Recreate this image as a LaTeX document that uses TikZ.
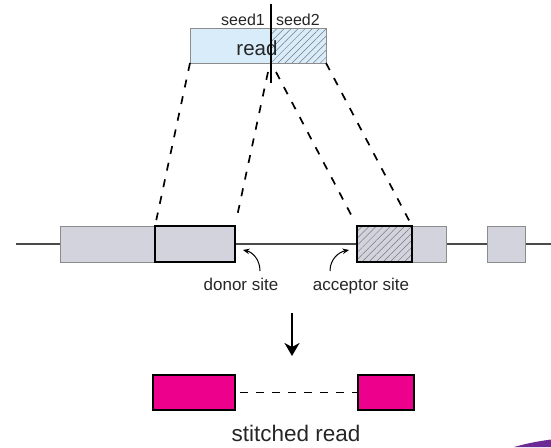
\documentclass[tikz,border=0pt]{standalone}
\usepackage{fontspec}
\setmainfont{Liberation Sans}
\usetikzlibrary{patterns.meta,arrows.meta}
\definecolor{readblue}{HTML}{D8ECF9}
\definecolor{exongray}{HTML}{D3D3DD}
\definecolor{edgegray}{HTML}{8C8C8C}
\definecolor{hatchgray}{HTML}{7A7A80}
\definecolor{linegray}{HTML}{4A4A4A}
\definecolor{stitchpink}{HTML}{EC008C}
\definecolor{swooshpurple}{HTML}{6B2A94}

\begin{document}
\begin{tikzpicture}[x=1pt,y=-1pt,
  blk/.style={rectangle, inner sep=0pt, outer sep=0pt},
  exon/.style={blk, fill=exongray, draw=edgegray, line width=0.8pt},
  mapped/.style={blk, draw=black, line width=1.8pt},
  hatch/.style={pattern={Lines[angle=45,distance=5pt,line width=0.5pt]}, pattern color=hatchgray},
  stitched/.style={blk, fill=stitchpink, draw=black, line width=1.5pt},
  seedlink/.style={black, line width=1.7pt, dash pattern=on 8pt off 9pt},
  sitearrow/.style={black, line width=1pt, -{Stealth[length=6.5pt,width=5.5pt]}},
  lbl/.style={inner sep=0pt, text=black!85, anchor=base}
]
\useasboundingbox (0,0) rectangle (551,447);

% ---- the read and its two seeds ----
\node[blk, fill=readblue, minimum width=136pt, minimum height=35pt] (read) at (258,45.5) {};
\node[blk, hatch, minimum width=55pt, minimum height=35pt] (seed2box) at (298.5,45.5) {};
\draw[edgegray, line width=0.8pt] (read.south west) rectangle (read.north east);
\node[lbl, font=\fontsize{20.5}{20.5}\selectfont] (readtxt) at (257,55) {read};
\coordinate (divtop) at (271,4);
\coordinate (divbot) at (271,83);
\draw[black, line width=1.4pt] (divtop) -- (divbot);
\node[lbl, font=\fontsize{16}{16}\selectfont, anchor=base east] (seed1) at (265,25.5) {seed1};
\node[lbl, font=\fontsize{16}{16}\selectfont, anchor=base west] (seed2) at (276,25.5) {seed2};

% ---- gene model ----
\coordinate (geneL) at (16,244);
\coordinate (geneR) at (551,244);
\draw[linegray, line width=1.3pt] (geneL) -- (geneR);
\node[exon, minimum width=175pt, minimum height=36pt] (exon1) at (147.5,244) {};
\node[exon, minimum width=89pt, minimum height=36pt] (exon2) at (401.5,244) {};
\node[exon, minimum width=38pt, minimum height=36pt] (exon3) at (506,244) {};
\node[mapped, minimum width=80pt, minimum height=36pt] (donor) at (195,244) {};
\node[blk, hatch, minimum width=55pt, minimum height=36pt] (acchatch) at (384.5,244) {};
\node[mapped, minimum width=55pt, minimum height=36pt] (acceptor) at (384.5,244) {};

% ---- seed-to-genome links ----
\coordinate (s2start) at (268,72);
\coordinate (s3start) at (276,72);
\draw[seedlink, shorten >=6pt] (read.south west) -- (donor.north west);
\draw[seedlink, shorten >=6pt] (s2start) -- (donor.north east);
\draw[seedlink, shorten >=6pt] (s3start) -- (acceptor.north west);
\draw[seedlink, shorten >=6pt] (read.south east) -- (acceptor.north east);

% ---- splice site labels ----
\node[lbl, font=\fontsize{17}{17}\selectfont] (donorlbl) at (241,290) {donor site};
\node[lbl, font=\fontsize{17}{17}\selectfont] (acclbl) at (361,290) {acceptor site};
\coordinate (dtail) at (260,271);
\coordinate (dtip) at (243,250);
\coordinate (atail) at (330,271);
\coordinate (atip) at (349,250);
\draw[sitearrow] (dtail) .. controls (260,259) and (252,252) .. (dtip);
\draw[sitearrow] (atail) .. controls (330,259) and (339,252) .. (atip);

% ---- result ----
\coordinate (arrtop) at (292,313);
\coordinate (arrbot) at (292,356);
\draw[black, line width=1.6pt, -{Stealth[length=13pt,width=15pt,inset=4pt]}] (arrtop) -- (arrbot);
\node[stitched, minimum width=82pt, minimum height=35pt] (left) at (194,392.5) {};
\node[stitched, minimum width=56pt, minimum height=35pt] (right) at (386,392.5) {};
\draw[black, line width=1.6pt, dash pattern=on 8pt off 8pt, dash phase=-5pt] (left.east) -- (right.west);
\node[lbl, font=\fontsize{22.5}{22.5}\selectfont] (stitchlbl) at (296,441.5) {stitched read};

% corner flourish
\fill[swooshpurple] (514,447) .. controls (528,443) and (540,441) .. (551,439.5) -- (551,447) -- cycle;
\end{tikzpicture}
\end{document}
